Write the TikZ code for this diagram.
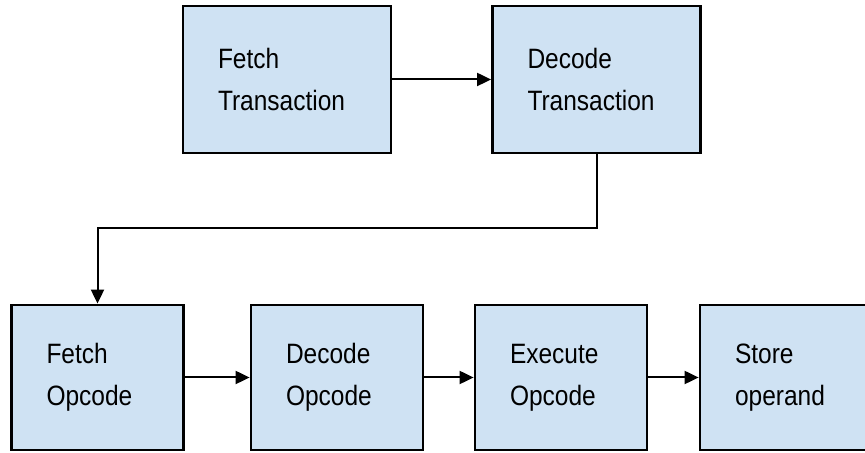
\documentclass[tikz,border=0pt]{standalone}
\usepackage{fontspec}
\setmainfont[FakeStretch=0.875]{Liberation Sans}
\usetikzlibrary{arrows.meta}
\definecolor{stageblue}{HTML}{CFE2F3}

\begin{document}
\begin{tikzpicture}[
            x=.5pt, y=.5pt,
            stage/.style={draw=black, line width=1.4pt, fill=stageblue, align=left,
                inner xsep=17.5pt, inner ysep=0pt, font=\fontsize{14}{21}\selectfont},
            wide/.style={stage, text width=69pt, minimum width=104pt, minimum height=73.5pt},
            narrow/.style={stage, text width=51pt, minimum width=86pt, minimum height=72.5pt},
            flow/.style={-{Triangle[length=7pt, width=6.5pt]}, line width=1pt},
        ]
            \useasboundingbox (0, 0) rectangle (865, 453);

            %% transaction level
            \node[wide] (ftrans) at (287, 373.5) {Fetch\\Transaction};
            \node[wide] (dtrans) at (596.5, 373.5) {Decode\\Transaction};

            %% opcode level, last box runs off the right edge
            \node[narrow] (fop) at (97.5, 75.5) {Fetch\\Opcode};
            \node[narrow] (dop) at (337, 75.5) {Decode\\Opcode};
            \node[narrow] (xop) at (561, 75.5) {Execute\\Opcode};
            \node[narrow] (sop) at (786, 75.5) {Store\\operand};

            \coordinate (turn) at (0, 225);

            \draw[flow] (ftrans) -- (dtrans);
            \draw[flow] (dtrans.south) -- (dtrans.south |- turn)
                -- (fop.north |- turn) -- (fop.north);
            \draw[flow] (fop) -- (dop);
            \draw[flow] (dop) -- (xop);
            \draw[flow] (xop) -- (sop);
        \end{tikzpicture}
\end{document}
